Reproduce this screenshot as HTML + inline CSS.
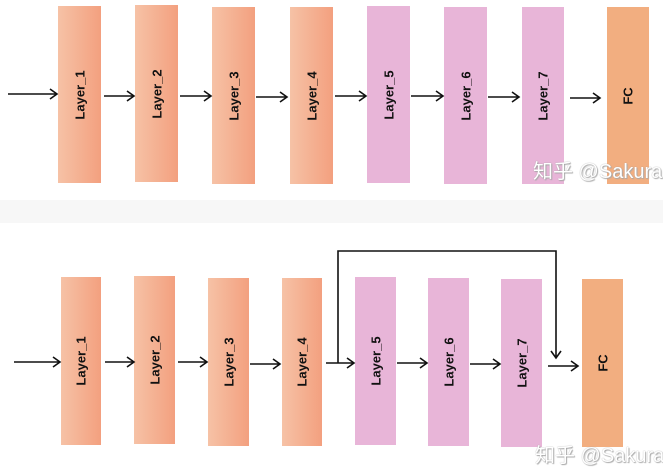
<!DOCTYPE html>
<html><head><style>
body{margin:0;width:663px;height:469px;background:#fff;position:relative;overflow:hidden;font-family:"Liberation Sans","Noto Sans CJK SC",sans-serif}
.b{position:absolute}
.o{background:linear-gradient(to right,#f6c2a6,#f3a07f)}
.p{background:#e8b5d8}
.f{background:#f2ae80}
.t{position:absolute;left:50%;top:50%;transform:translate(-50%,-50%) rotate(-90deg);font-size:13px;font-weight:bold;color:#111;white-space:nowrap}
.w{position:absolute;font-size:20px;color:#fff;text-shadow:0 0 1px #999,1px 1px 1px #aaa;white-space:nowrap}
.band{position:absolute;left:0;top:200px;width:663px;height:23px;background:#f7f7f7}
svg{position:absolute;left:0;top:0}
</style></head><body>
<div class="b o" style="left:58px;top:6px;width:43px;height:177px"><span class="t">Layer_1</span></div>
<div class="b o" style="left:135px;top:5px;width:43px;height:177px"><span class="t">Layer_2</span></div>
<div class="b o" style="left:212px;top:7px;width:43px;height:177px"><span class="t">Layer_3</span></div>
<div class="b o" style="left:290px;top:7px;width:43px;height:177px"><span class="t">Layer_4</span></div>
<div class="b p" style="left:367px;top:6px;width:43px;height:177px"><span class="t">Layer_5</span></div>
<div class="b p" style="left:444px;top:7px;width:43px;height:177px"><span class="t">Layer_6</span></div>
<div class="b p" style="left:522px;top:7px;width:42px;height:177px"><span class="t">Layer_7</span></div>
<div class="b f" style="left:607px;top:7px;width:42px;height:177px"><span class="t">FC</span></div>
<div class="w" style="left:533px;top:155px">知乎 @Sakura</div>
<div class="band"></div>
<div class="b o" style="left:61px;top:277px;width:40px;height:168px"><span class="t">Layer_1</span></div>
<div class="b o" style="left:134px;top:276px;width:41px;height:168px"><span class="t">Layer_2</span></div>
<div class="b o" style="left:208px;top:278px;width:41px;height:168px"><span class="t">Layer_3</span></div>
<div class="b o" style="left:282px;top:278px;width:40px;height:168px"><span class="t">Layer_4</span></div>
<div class="b p" style="left:355px;top:277px;width:41px;height:168px"><span class="t">Layer_5</span></div>
<div class="b p" style="left:428px;top:278px;width:41px;height:168px"><span class="t">Layer_6</span></div>
<div class="b p" style="left:501px;top:279px;width:41px;height:168px"><span class="t">Layer_7</span></div>
<div class="b f" style="left:582px;top:279px;width:41px;height:168px"><span class="t">FC</span></div>
<div class="w" style="left:535px;top:439px">知乎 @Sakura</div>
<svg width="663" height="469" stroke="#111" stroke-width="1.6" fill="none">
<g>
<path d="M8 94H57M50 89L57 94L50 99"/>
<path d="M104 96H134M127 91L134 96L127 101"/>
<path d="M180 96H211M204 91L211 96L204 101"/>
<path d="M256 97H287M280 92L287 97L280 102"/>
<path d="M335 96H366M359 91L366 96L359 101"/>
<path d="M411 96H443M436 91L443 96L436 101"/>
<path d="M488 97H519M512 92L519 97L512 102"/>
<path d="M570 98H600M593 93L600 98L593 103"/>
</g>
<g>
<path d="M14 362H60M53 357L60 362L53 367"/>
<path d="M105 362H134M127 357L134 362L127 367"/>
<path d="M178 362H207M200 357L207 362L200 367"/>
<path d="M250 364H280M273 359L280 364L273 369"/>
<path d="M326 363H354M347 358L354 363L347 368"/>
<path d="M397 363H427M420 358L427 363L420 368"/>
<path d="M470 364H500M493 359L500 364L493 369"/>
<path d="M548 366H578M571 361L578 366L571 371"/>
<path d="M338 363V251H556V358M551 351L556 358L561 351"/>
</g>
</svg>
</body></html>
